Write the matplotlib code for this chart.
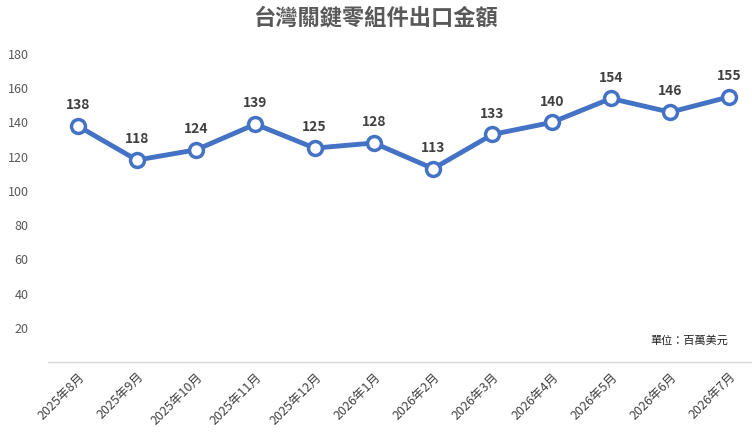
import matplotlib.pyplot as plt
import numpy as np

plt.rcParams['font.family'] = ['Noto Sans CJK TC', 'DejaVu Sans']

months = ['2025年8月', '2025年9月', '2025年10月', '2025年11月', '2025年12月',
          '2026年1月', '2026年2月', '2026年3月', '2026年4月', '2026年5月',
          '2026年6月', '2026年7月']
values = [138, 118, 124, 139, 125, 128, 113, 133, 140, 154, 146, 155]
y_ticks = [20, 40, 60, 80, 100, 120, 140, 160, 180]

fig = plt.figure(figsize=(7.52, 4.34), dpi=100)
ax = fig.add_axes([48 / 752, 1 - 362 / 434, 1 - 48 / 752, (362 - 54) / 434])

x = np.arange(len(months))
ax.plot(x, values, color='#4472C4', linewidth=3.5, marker='o',
        markersize=10, markerfacecolor='white', markeredgecolor='#4472C4',
        markeredgewidth=2.5, zorder=3)

for xi, v in zip(x, values):
    ax.annotate(str(v), (xi, v), xytext=(0, 10), textcoords='offset points',
                ha='center', va='bottom', fontsize=10, fontweight='bold',
                color='#404040')

ax.set_xlim(-0.5, 11.38)
ax.set_ylim(0, 180)
ax.set_yticks(y_ticks)
ax.set_xticks(x)
ax.set_xticklabels(months, rotation=45, ha='right', rotation_mode='anchor',
                   fontsize=9, color='#404040')
ax.tick_params(axis='y', length=0, labelsize=9, labelcolor='#595959', pad=14)
ax.tick_params(axis='x', length=0, pad=6)

for s in ['top', 'right', 'left']:
    ax.spines[s].set_visible(False)
ax.spines['bottom'].set_color('#D9D9D9')
ax.spines['bottom'].set_linewidth(1)

fig.text(0.5, 1 - 18 / 434, '台灣關鍵零組件出口金額', ha='center', va='center',
         fontsize=16, fontweight='bold', color='#595959')
fig.text(728 / 752, 1 - 341 / 434, '單位：百萬美元', ha='right', va='center',
         fontsize=8, color='#222222')

fig.savefig('out.png', dpi=100)
